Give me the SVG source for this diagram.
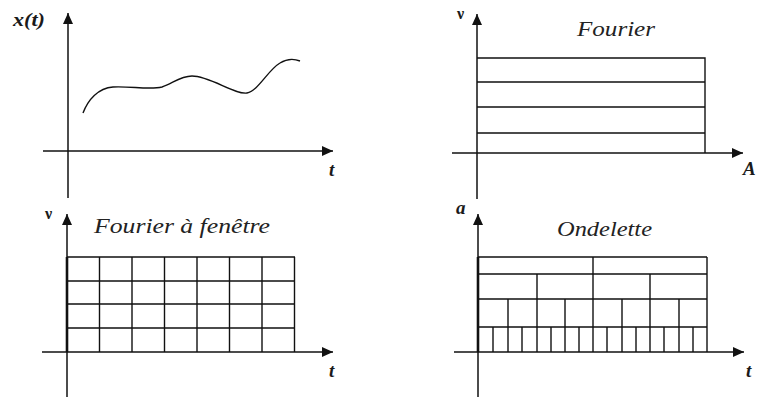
<svg xmlns="http://www.w3.org/2000/svg" width="760" height="398" viewBox="0 0 760 398">
<style>
.ax{stroke:#111;stroke-width:1.5;fill:none}
.gl{stroke:#111;stroke-width:1.4;fill:none}
.thick{stroke:#111;stroke-width:2.6;fill:none}
.lbl{font-family:'Liberation Serif',serif;font-style:italic;font-weight:bold;fill:#1a1a1a;font-size:19px}
.nu{font-family:'Liberation Serif',serif;font-weight:bold;fill:#1a1a1a;font-size:16px}
.ttl{font-family:'Liberation Serif',serif;font-style:italic;fill:#222;font-size:21px}
</style>
<defs>
<marker id="ar" markerUnits="userSpaceOnUse" markerWidth="11" markerHeight="10" refX="11" refY="5" orient="auto">
<path d="M0,0 L11,5 L0,10 z" fill="#111"/>
</marker>
</defs>
<g id="connectors">
<line class="ax" x1="68" y1="198" x2="68" y2="13" marker-end="url(#ar)"/>
<line class="ax" x1="43" y1="151" x2="333" y2="151" marker-end="url(#ar)"/>
<line class="ax" x1="477" y1="199" x2="477" y2="14" marker-end="url(#ar)"/>
<line class="ax" x1="452" y1="153" x2="743" y2="153" marker-end="url(#ar)"/>
<line class="ax" x1="67" y1="397" x2="67" y2="214" marker-end="url(#ar)"/>
<line class="ax" x1="42" y1="352" x2="333" y2="352" marker-end="url(#ar)"/>
<line class="ax" x1="478" y1="397" x2="478" y2="214" marker-end="url(#ar)"/>
<line class="ax" x1="454" y1="352" x2="744" y2="352" marker-end="url(#ar)"/>
</g>
<g id="signal">
<text class="lbl" font-family="Liberation Serif" x="13" y="26" font-size="18" font-weight="normal" textLength="32" lengthAdjust="spacingAndGlyphs">x(t)</text>
<text class="lbl" font-family="Liberation Serif" x="329" y="176">t</text>
<path class="gl" d="M83,113 C88,100 98,88 113,87 C130,86 150,90 162,87 C172,84 180,76 192,76 C210,76 235,95 247,93 C258,91 268,70 280,63 C288,58 295,59 300,61"/>
</g>
<g id="fourier">
<text class="nu" font-family="Liberation Serif" x="457" y="19">ν</text>
<text class="ttl" font-family="Liberation Serif" x="577" y="36" textLength="78" lengthAdjust="spacingAndGlyphs">Fourier</text>
<text class="lbl" font-family="Liberation Serif" x="743" y="175">A</text>
<path class="gl" d="M477,58 H705 V153 M477,82 H705 M477,107 H705 M477,133 H705"/>
</g>
<g id="fourier-fenetre">
<text class="nu" font-family="Liberation Serif" x="45" y="219">ν</text>
<text class="ttl" font-family="Liberation Serif" x="94" y="233" textLength="176" lengthAdjust="spacingAndGlyphs">Fourier à fenêtre</text>
<text class="lbl" font-family="Liberation Serif" x="329" y="377">t</text>
<path class="gl" d="M67,257 H295 M67,281 H295 M67,304 H295 M67,328 H295 M99.5,257 V352 M132,257 V352 M164.5,257 V352 M197,257 V352 M229.5,257 V352 M262,257 V352 M294.5,257 V352"/>
<line class="thick" x1="67" y1="257" x2="67" y2="352"/>
</g>
<g id="ondelette">
<text class="lbl" font-family="Liberation Serif" x="456" y="214" font-size="17">a</text>
<text class="ttl" font-family="Liberation Serif" x="557" y="236" textLength="95" lengthAdjust="spacingAndGlyphs">Ondelette</text>
<text class="lbl" font-family="Liberation Serif" x="746" y="377">t</text>
<path class="gl" d="M478,257 H707 M478,274 H707 M478,299 H707 M478,327 H707 M707,257 V352
M593,257 V352
M537,274 V352 M650,274 V352
M508,299 V352 M565,299 V352 M622,299 V352 M679,299 V352
M493,327 V352 M522,327 V352 M551,327 V352 M579,327 V352 M607,327 V352 M636,327 V352 M664,327 V352 M693,327 V352"/>
<line class="thick" x1="478" y1="257" x2="478" y2="352"/>
</g>
</svg>
